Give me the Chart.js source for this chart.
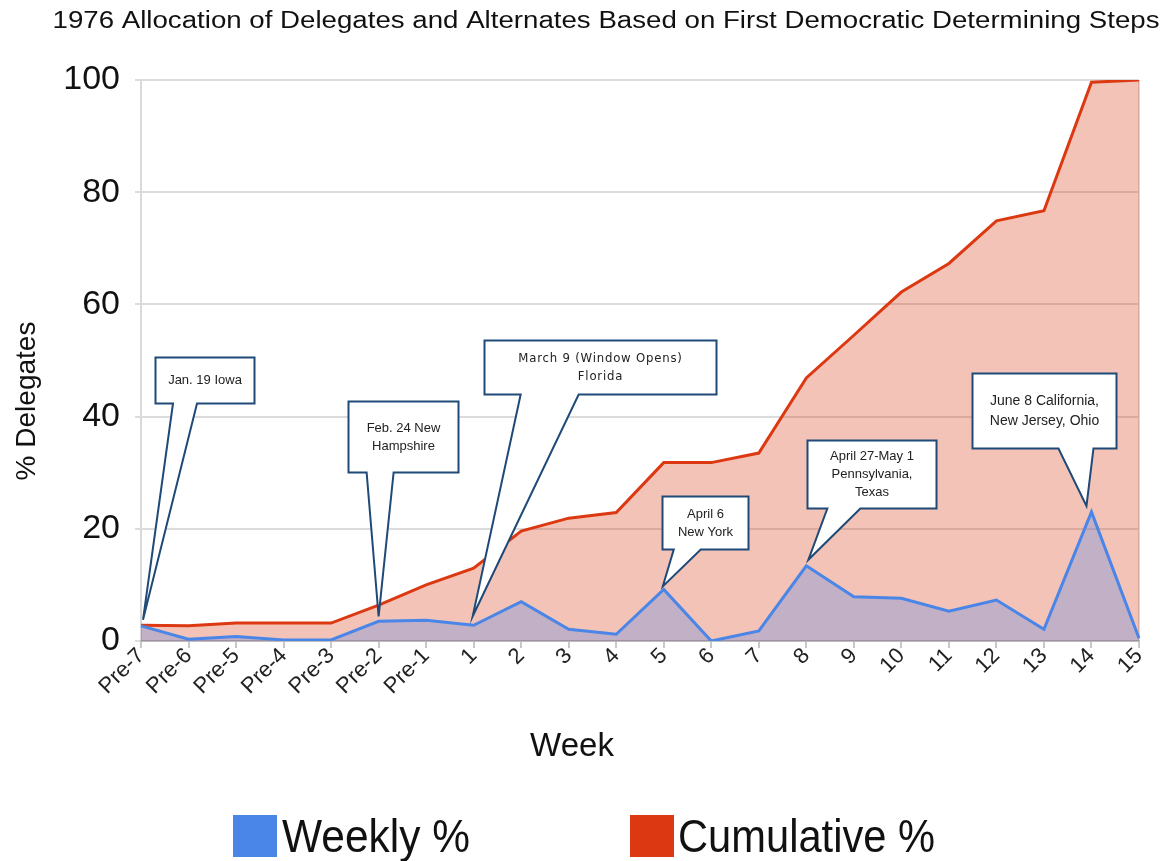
<!DOCTYPE html>
<html>
<head>
<meta charset="utf-8">
<script src="https://cdn.jsdelivr.net/npm/chart.js@4"></script>
<style>
html,body{margin:0;padding:0;background:#ffffff;}
#wrap{width:1169px;height:861px;position:relative;}
</style>
</head>
<body>
<div id="wrap"><canvas id="c" width="1169" height="861"></canvas></div>
<script>
// ---------------- data ----------------
const weekLabels = ['Pre-7','Pre-6','Pre-5','Pre-4','Pre-3','Pre-2','Pre-1',
  '1','2','3','4','5','6','7','8','9','10','11','12','13','14','15'];
const weeklyPct = [2.7, 0.3, 0.8, 0.2, 0.2, 3.5, 3.7, 2.8, 7.0, 2.1, 1.2, 9.2, 0.0, 1.8,
  13.4, 7.9, 7.6, 5.3, 7.3, 2.1, 23.0, 0.5];
const cumulativePct = [2.8, 2.7, 3.2, 3.2, 3.2, 6.4, 10.0, 13.0, 19.6, 21.9, 22.9, 31.8, 31.8, 33.5,
  46.9, 54.5, 62.2, 67.3, 74.9, 76.7, 99.6, 100];
const yTickValues = [0, 20, 40, 60, 80, 100];
const seriesNames = ['Weekly %', 'Cumulative %'];
const chartTitle = '1976 Allocation of Delegates and Alternates Based on First Democratic Determining Steps';
const xTitle = 'Week';
const yTitle = '% Delegates';

// callout annotations (anchored to weekly-series points by index)
const calloutIndex = [0, 5, 7, 11, 14, 20];
const calloutText = [
  ['Jan. 19 Iowa'],
  ['Feb. 24 New', 'Hampshire'],
  ['March 9 (Window Opens)', 'Florida'],
  ['April 6', 'New York'],
  ['April 27-May 1', 'Pennsylvania,', 'Texas'],
  ['June 8 California,', 'New Jersey, Ohio']
];
// ---------------- layout / style (pixel offsets relative to anchor point) ----------------
const calloutGeom = [
  {dx:14,  dy:-269, w:99,  h:46, b0:32,  b1:56,  tx:2,  ty:-6},
  {dx:-31, dy:-220, w:110, h:71, b0:-12, b1:15,  tx:0,  ty:-5},
  {dx:10,  dy:-285, w:232, h:54, b0:47,  b1:105, tx:-1, ty:-9, narrow:true},
  {dx:-2,  dy:-93,  w:86,  h:53, b0:10,  b1:37,  tx:-1, ty:-3},
  {dx:1,   dy:-126, w:129, h:68, b0:21,  b1:54,  tx:2,  ty:-6},
  {dx:-119,dy:-139, w:144, h:75, b0:-33, b1:2,   tx:-5, ty:-6, size:14, lh:20}
];

const FONT = "'Liberation Sans', Arial, Helvetica, sans-serif";
const BLUE = '#4a86e8';
const RED = '#dc3912';

const decor = {
  id: 'decor',
  afterDatasetsDraw(chart) {
    const ctx = chart.ctx;
    const meta = chart.getDatasetMeta(0);
    calloutIndex.forEach((idx, k) => {
      const g = calloutGeom[k];
      const pt = meta.data[idx];
      const px = pt.x, py = pt.y;
      const L = Math.round(px + g.dx) + 0.5, T = Math.round(py + g.dy) + 0.5;
      const R = L + g.w, B = T + g.h;
      const tipX = px + g.tx, tipY = py + g.ty;
      ctx.save();
      ctx.beginPath();
      ctx.moveTo(L, T);
      ctx.lineTo(R, T);
      ctx.lineTo(R, B);
      ctx.lineTo(px + g.b1, B);
      ctx.lineTo(tipX, tipY);
      ctx.lineTo(px + g.b0, B);
      ctx.lineTo(L, B);
      ctx.closePath();
      ctx.fillStyle = '#ffffff';
      ctx.fill();
      ctx.lineWidth = 2;
      ctx.strokeStyle = '#1f4a78';
      ctx.lineJoin = 'miter';
      ctx.stroke();
      const size = g.size || 13;
      const lh = g.lh || 18;
      ctx.fillStyle = '#222222';
      ctx.textAlign = 'center';
      ctx.textBaseline = 'middle';
      if (g.narrow) {
        ctx.font = "13px 'Liberation Sans Narrow', 'DejaVu Sans Condensed', " + FONT;
        try { ctx.letterSpacing = '0.8px'; } catch (e) {}
      } else {
        ctx.font = size + 'px ' + FONT;
      }
      const lines = calloutText[k];
      const cy = (T + B) / 2;
      const cx = (L + R) / 2;
      lines.forEach((s, j) => {
        ctx.fillText(s, cx, cy + (j - (lines.length - 1) / 2) * lh);
      });
      ctx.restore();
    });
  },
  afterDraw(chart) {
    const ctx = chart.ctx;
    // chart title
    ctx.save();
    ctx.font = '23px ' + FONT;
    ctx.fillStyle = '#111111';
    ctx.textBaseline = 'alphabetic';
    ctx.textAlign = 'center';
    const tw = ctx.measureText(chartTitle).width;
    const sx = 1107 / tw;
    ctx.translate(606, 28);
    ctx.scale(sx, 1);
    ctx.fillText(chartTitle, 0, 0);
    ctx.restore();

    // axis titles
    ctx.save();
    ctx.font = '33px ' + FONT;
    ctx.fillStyle = '#111111';
    ctx.textAlign = 'center';
    ctx.textBaseline = 'alphabetic';
    ctx.fillText(xTitle, 572, 756);
    ctx.restore();

    ctx.save();
    ctx.font = '28px ' + FONT;
    ctx.fillStyle = '#111111';
    ctx.textAlign = 'center';
    ctx.textBaseline = 'alphabetic';
    ctx.translate(35, 401);
    ctx.rotate(-Math.PI / 2);
    ctx.fillText(yTitle, 0, 0);
    ctx.restore();

    // legend
    const legendPos = [{bx:233, tx:282, tw:188}, {bx:630, tx:678, tw:257}];
    chart.data.datasets.forEach((ds, i) => {
      const p = legendPos[i];
      ctx.save();
      ctx.fillStyle = ds.borderColor;
      ctx.fillRect(p.bx, 815, 44, 42);
      ctx.font = '46px ' + FONT;
      ctx.fillStyle = '#111111';
      ctx.textAlign = 'left';
      ctx.textBaseline = 'alphabetic';
      const w = ctx.measureText(ds.label).width;
      ctx.translate(p.tx, 852);
      ctx.scale(p.tw / w, 1);
      ctx.fillText(ds.label, 0, 0);
      ctx.restore();
    });
  }
};

const lastIdx = weekLabels.length - 1;

new Chart(document.getElementById('c'), {
  type: 'line',
  data: {
    labels: weekLabels,
    datasets: [
      {
        label: seriesNames[0],
        data: weeklyPct,
        borderColor: BLUE,
        backgroundColor: 'rgba(74,134,232,0.30)',
        borderWidth: 3,
        fill: 'origin',
        pointRadius: 0,
        tension: 0
      },
      {
        label: seriesNames[1],
        data: cumulativePct,
        borderColor: RED,
        backgroundColor: 'rgba(220,57,18,0.30)',
        borderWidth: 3,
        fill: 'origin',
        pointRadius: 0,
        tension: 0
      }
    ]
  },
  options: {
    responsive: false,
    animation: false,
    devicePixelRatio: 1,
    layout: { padding: { top: 80, right: 30, bottom: 0, left: 0 } },
    plugins: {
      legend: { display: false },
      title: { display: false },
      tooltip: { enabled: false }
    },
    scales: {
      x: {
        type: 'category',
        offset: false,
        afterFit(s) { s.height = 220; },
        grid: {
          drawOnChartArea: true,
          color: (c) => (c.index === 0 || c.index === lastIdx) ? '#d9d9d9' : 'rgba(0,0,0,0)',
          tickColor: '#c8c8c8',
          lineWidth: 2,
          tickLength: 7,
          drawTicks: true
        },
        border: { display: true, color: '#bdbdbd', width: 2 },
        ticks: {
          autoSkip: false,
          maxRotation: 45,
          minRotation: 45,
          padding: -5,
          color: '#222222',
          font: { family: FONT, size: 22 }
        }
      },
      y: {
        min: 0,
        max: 100,
        afterFit(s) { s.width = 141; },
        afterBuildTicks(s) { s.ticks = yTickValues.map(v => ({ value: v })); },
        grid: {
          color: '#dcdcdc',
          lineWidth: 2,
          tickLength: 6,
          drawTicks: true
        },
        border: { display: false },
        ticks: {
          padding: 15,
          color: '#111111',
          font: { family: FONT, size: 34 }
        }
      }
    }
  },
  plugins: [decor]
});
</script>
</body>
</html>
